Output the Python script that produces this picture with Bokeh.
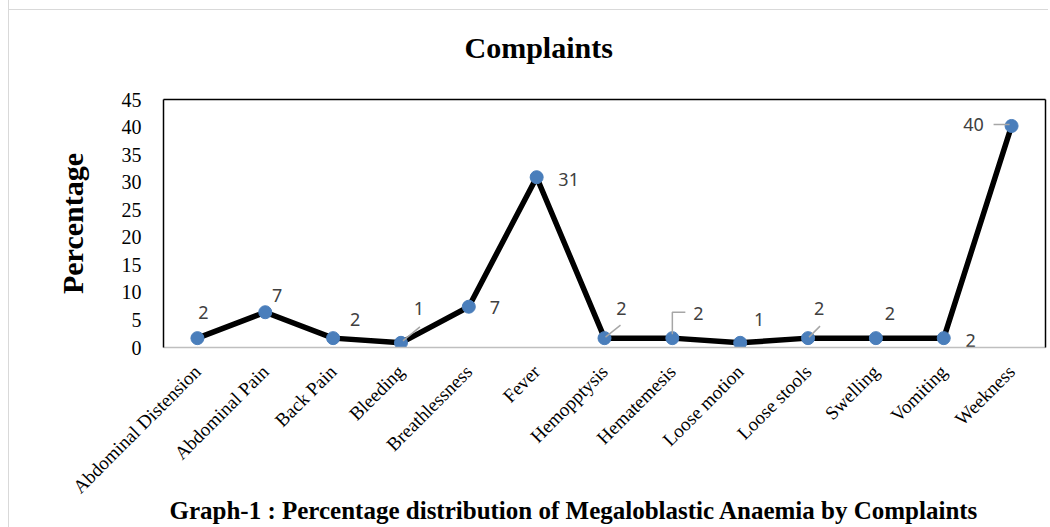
import math
from bokeh.plotting import figure
from bokeh.models import FactorRange, Range1d, FixedTicker, LinearAxis, Title
from bokeh.core.properties import value
from bokeh.embed import file_html
from bokeh.resources import INLINE

# ---- data ----
categories = ["Abdominal Distension", "Abdominal Pain", "Back Pain", "Bleeding",
              "Breathlessness", "Fever", "Hemopptysis", "Hematemesis",
              "Loose motion", "Loose stools", "Swelling", "Vomiting", "Weekness"]
percentages = [1.7, 6.4, 1.7, 0.85, 7.4, 30.9, 1.7, 1.7, 0.85, 1.7, 1.7, 1.7, 40.2]
label_texts = ["2", "7", "2", "1", "7", "31", "2", "2", "1", "2", "2", "2", "40"]
y_ticks = [0, 5, 10, 15, 20, 25, 30, 35, 40, 45]
title_text = "Complaints"
y_label = "Percentage"
caption_text = "Graph-1 : Percentage distribution of Megaloblastic Anaemia by Complaints"

# ---- label placement (screen px: dx right, dy up) ----
label_dx = [6, 12, 22, 18, 26, 32, 17, 26, 19, 11, 14, 27, -38]
label_dy = [26, 17, 19, 34, -1, -2, 30, 25, 23, 30, 25, -2, 1]
# leader lines: (category index, [(dx, dy), ...]) in px
leaders = [
    (3, [(2, 2), (19, 16)]),
    (6, [(1, 1), (16, 13)]),
    (7, [(0, 4), (0, 26), (13, 26)]),
    (9, [(1, 1), (12, 12)]),
    (12, [(-2, 1.5), (-18, 1.5)]),
]

FW, FH = 882, 248
Y0, Y1 = 0, 45
px_x = FW / len(categories)
px_y = FH / (Y1 - Y0)

p = figure(x_range=FactorRange(*categories), y_range=Range1d(Y0, Y1),
           frame_width=FW, frame_height=FH,
           min_border_left=154, min_border_right=3, min_border_top=100, min_border_bottom=185,
           output_backend="svg", toolbar_location=None,
           background_fill_color="white", border_fill_color="white", border_fill_alpha=0,
           outline_line_color=None)
p.styles = {"margin-left": "8px", "margin-top": "-7px",
            "border-left": "1px solid #d9d9d9",
            "background": "linear-gradient(#d9d9d9, #d9d9d9) 0 16px / 100% 1px no-repeat"}

p.xgrid.visible = False
p.ygrid.visible = False

# title and caption
p.title = Title(text=title_text, align="left", offset=301,
                text_font="Liberation Serif", text_font_size="30px",
                text_font_style="bold", text_color="black", standoff=71)
cap = Title(text=caption_text, align="left", offset=6,
            text_font="Liberation Serif", text_font_size="25px",
            text_font_style="bold", text_color="black", standoff=-25)
p.add_layout(cap, "below")

# axes
xa = p.xaxis[0]
xa.major_label_orientation = math.pi / 4
xa.major_label_text_font = "Liberation Serif"
xa.major_label_text_font_size = "19px"
xa.major_label_text_color = "black"
xa.axis_line_color = "#bfbfbf"
xa.axis_line_width = 1.5
xa.major_tick_line_color = None
xa.minor_tick_line_color = None
xa.major_label_standoff = 15

ya = p.yaxis[0]
ya.ticker = FixedTicker(ticks=y_ticks)
ya.major_label_text_font = "Liberation Serif"
ya.major_label_text_font_size = "20px"
ya.major_label_text_color = "black"
ya.axis_line_color = "black"
ya.axis_line_width = 1.5
ya.major_tick_line_color = None
ya.minor_tick_line_color = None
ya.major_label_standoff = 16
ya.axis_label = y_label
ya.axis_label_text_font = "Liberation Serif"
ya.axis_label_text_font_size = "30px"
ya.axis_label_text_font_style = "bold"
ya.axis_label_text_color = "black"
ya.axis_label_standoff = 30

for side in ("right", "above"):
    ax = LinearAxis(ticker=FixedTicker(ticks=[]), axis_line_color="black", axis_line_width=1.5,
                    major_tick_line_color=None, minor_tick_line_color=None,
                    major_label_text_font_size="0px", major_label_standoff=0)
    p.add_layout(ax, side)

# series
p.line(x=categories, y=percentages, line_color="black", line_width=5.5, line_join="round")
p.scatter(x=categories, y=percentages, size=13, fill_color="#4a7ebb", line_color="#4a7ebb")

# leader lines
lx, ly = [], []
for idx, pts in leaders:
    lx.append([idx + 0.5 + dx / px_x for dx, dy in pts])
    ly.append([percentages[idx] + dy / px_y for dx, dy in pts])
p.multi_line(xs=lx, ys=ly, line_color="#a6a6a6", line_width=1.5)

# data labels
p.text(x=categories, y=percentages, text=label_texts,
       x_offset=label_dx, y_offset=[-d for d in label_dy],
       text_align="center", text_baseline="middle",
       text_font=value("Noto Sans"), text_font_size="18px", text_color="#404040")

open("out.html", "w").write(file_html(p, INLINE))
